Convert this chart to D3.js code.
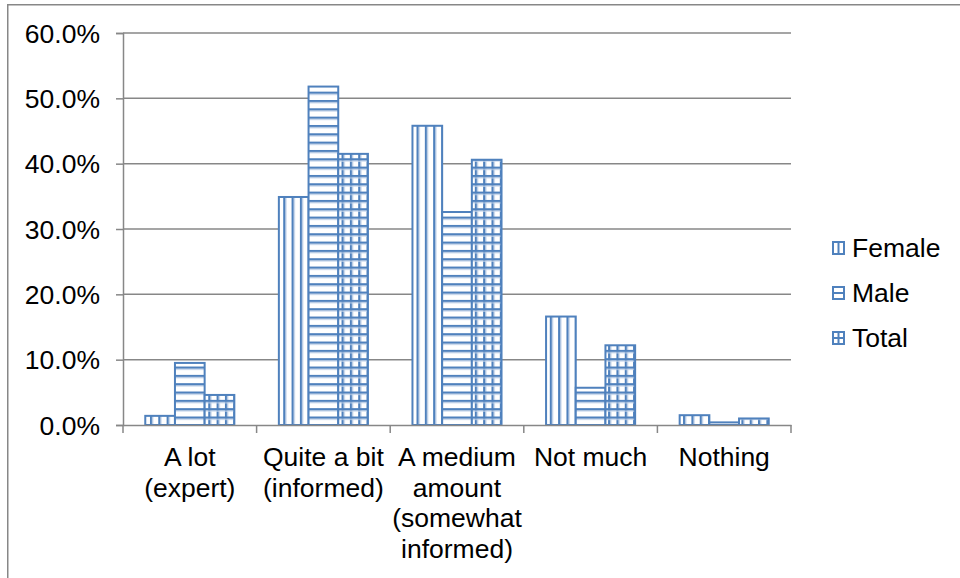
<!DOCTYPE html>
<html>
<head>
<meta charset="utf-8">
<script src="https://cdn.jsdelivr.net/npm/d3@7"></script>
<style>
  html, body { margin: 0; padding: 0; background: #fff; }
  svg { display: block; }
  text { font-family: "Liberation Sans", Arial, sans-serif; fill: #000; }
</style>
</head>
<body>
<svg id="chart" width="960" height="578"></svg>
<script>
// Survey: how informed respondents feel, by gender
const categories = ["A lot (expert)", "Quite a bit (informed)", "A medium amount (somewhat informed)", "Not much", "Nothing"];
const categoryLines = [
  ["A lot", "(expert)"],
  ["Quite a bit", "(informed)"],
  ["A medium", "amount", "(somewhat", "informed)"],
  ["Not much"],
  ["Nothing"]
];
const seriesNames = ["Female", "Male", "Total"];
const female = [0.014, 0.349, 0.458, 0.166, 0.015];
const male   = [0.095, 0.518, 0.326, 0.057, 0.004];
const total  = [0.046, 0.415, 0.406, 0.122, 0.010];
const yTicks = [0, 0.1, 0.2, 0.3, 0.4, 0.5, 0.6];

const seriesValues = [female, male, total];
const blue = "#4F81BD";
const gray = "#878787";
const fontSize = "26.5px";

const svg = d3.select("#chart");
const defs = svg.append("defs");

// Hatch patterns: vertical lines, horizontal lines, grid
const P = 8.33;
function makePattern(id, vert, horiz) {
  const p = defs.append("pattern")
    .attr("id", id)
    .attr("patternUnits", "userSpaceOnUse")
    .attr("width", P).attr("height", P);
  p.append("rect").attr("width", P).attr("height", P).attr("fill", "#fff");
  if (vert) {
    p.append("rect").attr("x", 0).attr("y", 0).attr("width", 2.4).attr("height", P).attr("fill", blue);
    p.append("rect").attr("x", 2.4).attr("y", 0).attr("width", 1).attr("height", P).attr("fill", "#c9d8ec");
  }
  if (horiz) {
    p.append("rect").attr("x", 0).attr("y", 0).attr("width", P).attr("height", 2.4).attr("fill", blue);
    p.append("rect").attr("x", 0).attr("y", 2.4).attr("width", P).attr("height", 1).attr("fill", "#c9d8ec");
  }
}
makePattern("pat-female", true, false);
makePattern("pat-male", false, true);
makePattern("pat-total", true, true);
const patIds = ["pat-female", "pat-male", "pat-total"];

// Outer chart border
svg.append("rect")
  .attr("x", 7.75).attr("y", 4.75)
  .attr("width", 1200).attr("height", 1200)
  .attr("fill", "none").attr("stroke", gray).attr("stroke-width", 1.5);

const x = d3.scaleBand().domain(categories).range([123, 791]).padding(0);
const y = d3.scaleLinear().domain([0, 0.6]).range([425, 33]);

// Gridlines
svg.append("g").selectAll("line").data(yTicks.filter(d => d > 0)).join("line")
  .attr("x1", 123).attr("x2", 791)
  .attr("y1", d => y(d)).attr("y2", d => y(d))
  .attr("stroke", gray).attr("stroke-width", 1.5);

// Y axis
const yAxis = svg.append("g")
  .attr("transform", "translate(123,0)")
  .call(d3.axisLeft(y).tickValues(yTicks).tickFormat(d3.format(".1%")).tickSize(7).tickPadding(16));
yAxis.select(".domain").attr("stroke", gray).attr("stroke-width", 1.5);
yAxis.selectAll(".tick line").attr("stroke", gray).attr("stroke-width", 1.5);
yAxis.selectAll(".tick text")
  .style("font-family", "'Liberation Sans', Arial, sans-serif")
  .style("font-size", fontSize).attr("fill", "#000").attr("dy", "0.35em");

// Bars
const bw = x.bandwidth() / 4.5;
const groupOffset = (x.bandwidth() - 3 * bw) / 2;
const barData = [];
seriesValues.forEach((vals, s) => {
  vals.forEach((v, i) => barData.push({ s, cat: categories[i], v }));
});
svg.append("g").selectAll("rect").data(barData).join("rect")
  .attr("x", d => x(d.cat) + groupOffset + d.s * bw)
  .attr("y", d => y(d.v))
  .attr("width", bw)
  .attr("height", d => y(0) - y(d.v))
  .attr("fill", d => `url(#${patIds[d.s]})`)
  .attr("stroke", blue)
  .attr("stroke-width", 2);

// X axis
const xAxis = svg.append("g")
  .attr("transform", `translate(0,${y(0)})`)
  .call(d3.axisBottom(x).tickSize(0).tickFormat(""));
xAxis.select(".domain").attr("stroke", gray).attr("stroke-width", 1.5);
svg.append("g").selectAll("line")
  .data(categories.map(c => x(c)).concat([x.range()[1]]))
  .join("line")
  .attr("x1", d => d).attr("x2", d => d)
  .attr("y1", y(0)).attr("y2", y(0) + 8)
  .attr("stroke", gray).attr("stroke-width", 1.5);

// Category labels
const labels = svg.append("g").selectAll("text").data(categories).join("text")
  .attr("text-anchor", "middle")
  .style("font-size", fontSize);
labels.each(function(c, i) {
  const t = d3.select(this);
  categoryLines[i].forEach((line, k) => {
    t.append("tspan")
      .attr("x", x(c) + x.bandwidth() / 2)
      .attr("y", 466 + k * 30.5)
      .text(line);
  });
});

// Legend
const legend = svg.append("g");
seriesNames.forEach((name, s) => {
  const cy = 248 + s * 45;
  const g = legend.append("g").attr("transform", `translate(833,${cy - 6})`);
  g.append("rect").attr("width", 11).attr("height", 12)
    .attr("fill", "#fff").attr("stroke", blue).attr("stroke-width", 2);
  if (s === 0 || s === 2) g.append("line").attr("x1", 5.5).attr("x2", 5.5).attr("y1", 0).attr("y2", 12).attr("stroke", blue).attr("stroke-width", 2);
  if (s === 1 || s === 2) g.append("line").attr("x1", 0).attr("x2", 11).attr("y1", 6).attr("y2", 6).attr("stroke", blue).attr("stroke-width", 2);
  legend.append("text")
    .attr("x", 852).attr("y", cy).attr("dy", "0.35em")
    .style("font-size", fontSize)
    .text(name);
});
</script>
</body>
</html>
